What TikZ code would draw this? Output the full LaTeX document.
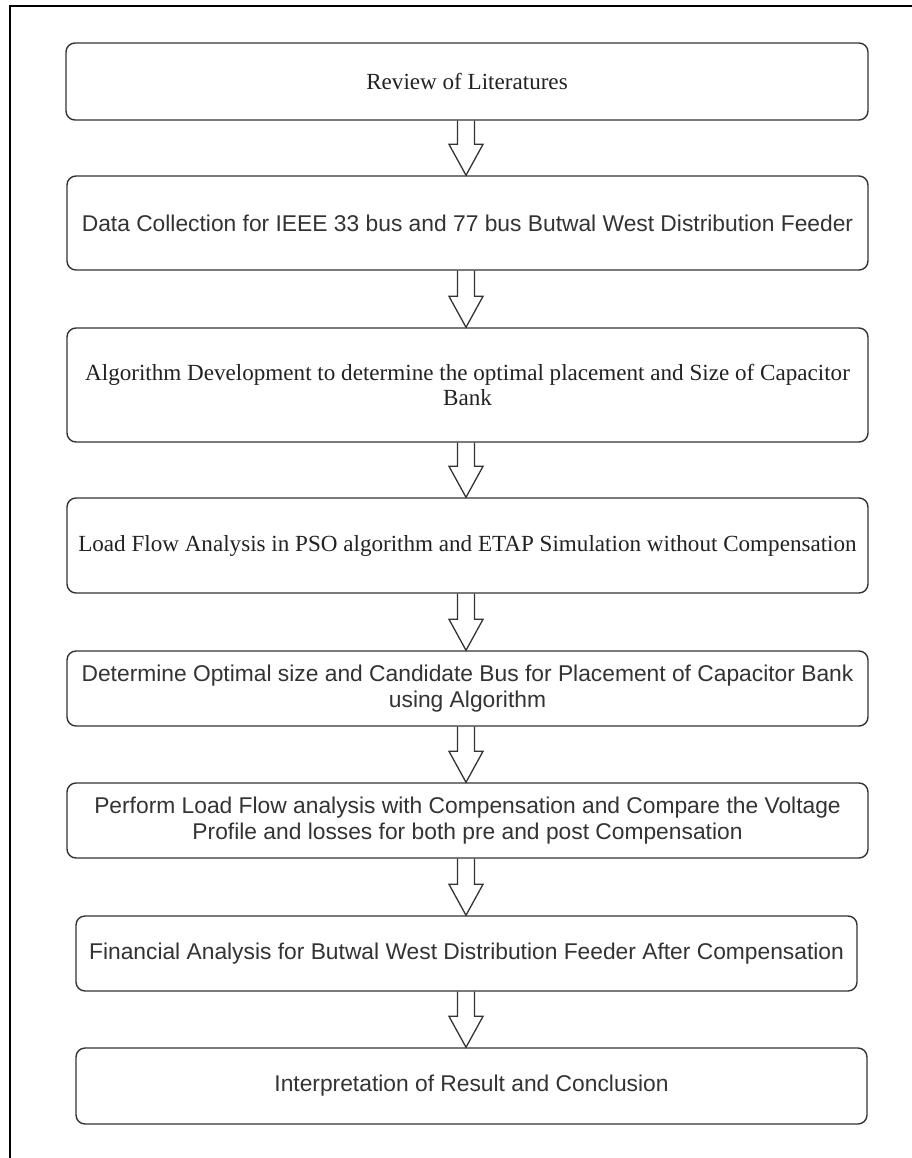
\documentclass[tikz,border=0pt]{standalone}
\usepackage{fontspec}
\setmainfont{Liberation Serif}
\setsansfont{Liberation Sans}
\usetikzlibrary{calc}
\definecolor{edge}{HTML}{333333}
\definecolor{txt}{HTML}{333333}
\definecolor{txtserif}{HTML}{222222}
\tikzset{
  stepbox/.style={draw=edge, line width=1.4pt, rounded corners=9pt, fill=white, align=center, inner sep=0pt},
  sansbox/.style={stepbox, text=txt, font=\sffamily\fontsize{22.8}{25.5}\selectfont},
  serifbox/.style={stepbox, text=txtserif, font=\rmfamily\fontsize{23.1}{25.5}\selectfont},
  barrow/.style={draw=edge, line width=1.3pt, line join=miter},
  frame/.style={draw=black, line width=2pt}
}
\newcommand\blockarrow[2]{%
  \draw[barrow] let \p1=(#1.south), \p2=(#2.north) in
    (457.5pt,\y1) -- (457.5pt,\y2+31pt) -- (449pt,\y2+31pt) -- (466pt,\y2)
    -- (483pt,\y2+31pt) -- (474.5pt,\y2+31pt) -- (474.5pt,\y1);}
\begin{document}
\begin{tikzpicture}[x=1pt,y=-1pt]
\useasboundingbox (0,0) rectangle (911,1158);
\draw[frame] (10,1175) -- (10,6) -- (930,6);

\node[serifbox, minimum width=802pt, minimum height=77pt] (b1) at (467,81.5) {Review of Literatures};
\node[sansbox, minimum width=801pt, minimum height=94pt] (b2) at (467.5,223) {Data Collection for IEEE 33 bus and 77 bus Butwal West Distribution Feeder};
\node[serifbox, minimum width=801pt, minimum height=114pt] (b3) at (467.5,385) {Algorithm Development to determine the optimal placement and Size of Capacitor\\Bank};
\node[serifbox, minimum width=801pt, minimum height=95pt] (b4) at (467.5,545.5) {Load Flow Analysis in PSO algorithm and ETAP Simulation without Compensation};
\node[sansbox, minimum width=801pt, minimum height=75pt] (b5) at (467.5,688.5) {Determine Optimal size and Candidate Bus for Placement of Capacitor Bank\\using Algorithm};
\node[sansbox, minimum width=801pt, minimum height=75pt] (b6) at (467.5,820.5) {Perform Load Flow analysis with Compensation and Compare the Voltage\\Profile and losses for both pre and post Compensation};
\node[sansbox, minimum width=781pt, minimum height=75pt] (b7) at (466.5,953.5) {Financial Analysis for Butwal West Distribution Feeder After Compensation};
\node[sansbox, minimum width=791pt, minimum height=76pt] (b8) at (471.5,1086) {Interpretation of Result and Conclusion};

\blockarrow{b1}{b2}
\blockarrow{b2}{b3}
\blockarrow{b3}{b4}
\blockarrow{b4}{b5}
\blockarrow{b5}{b6}
\blockarrow{b6}{b7}
\blockarrow{b7}{b8}
\end{tikzpicture}
\end{document}
